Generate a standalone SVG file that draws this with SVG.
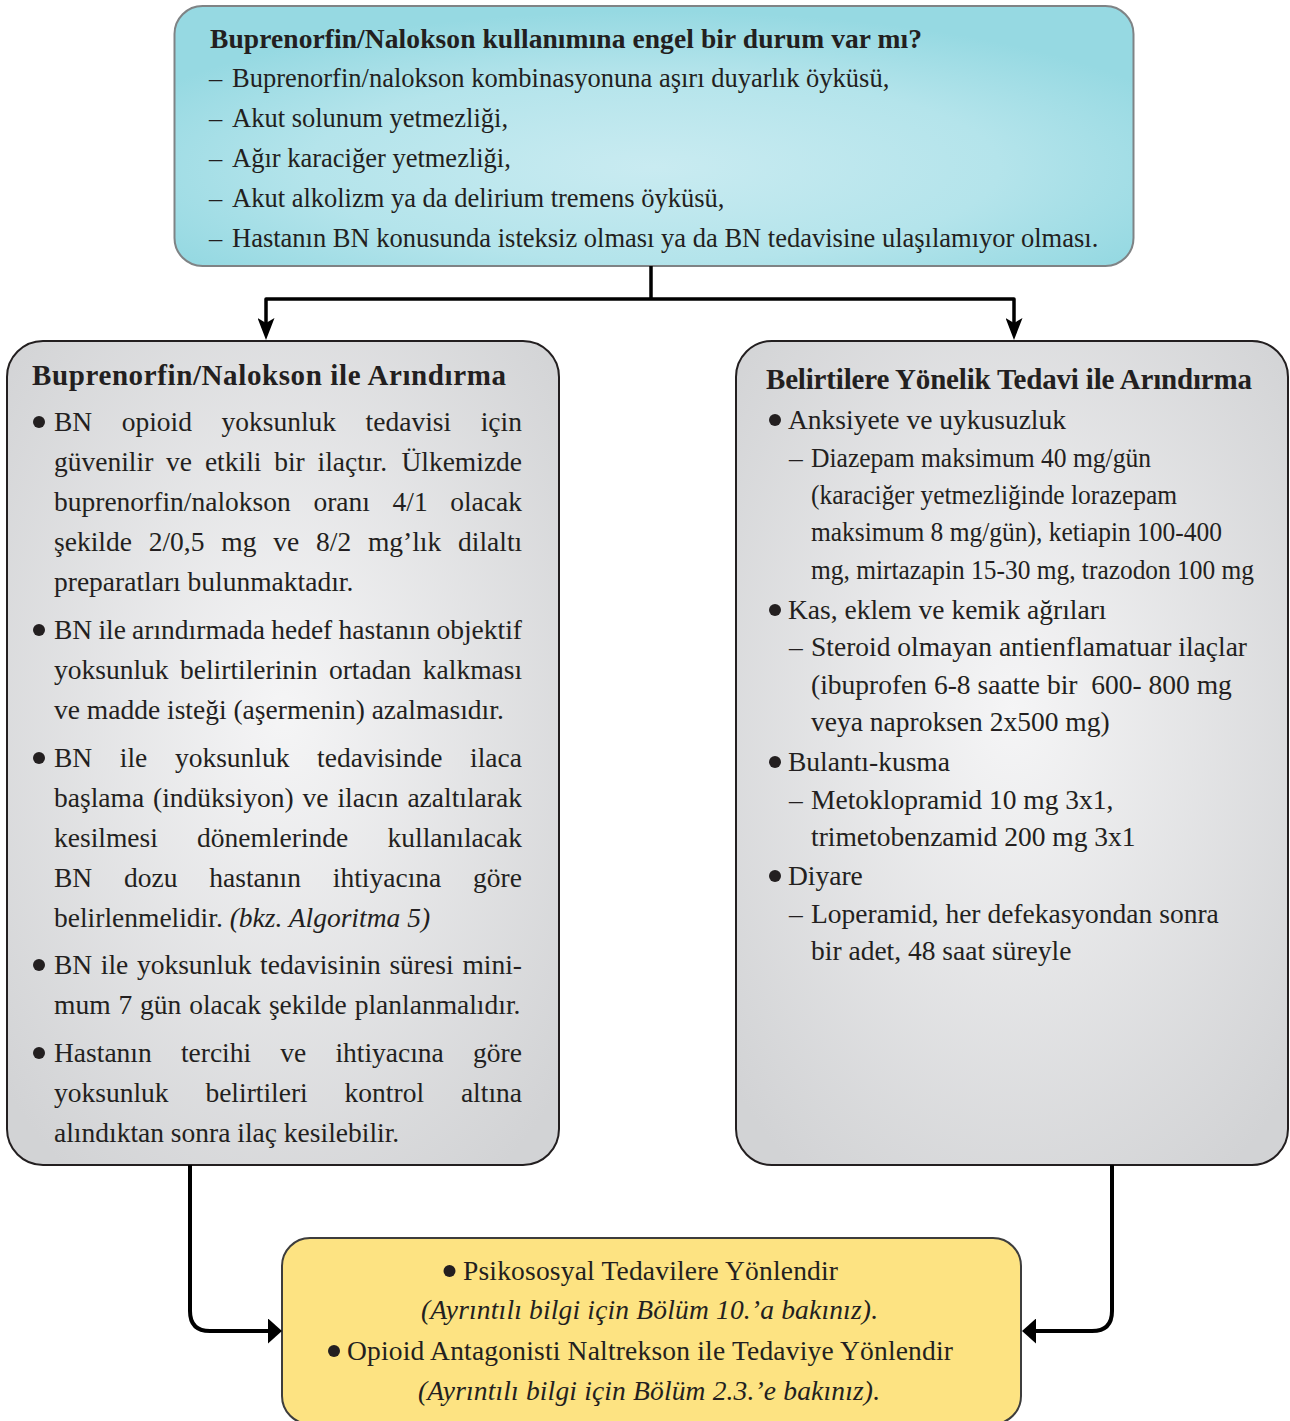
<svg xmlns="http://www.w3.org/2000/svg" width="1290" height="1421" viewBox="0 0 1290 1421">
  <defs>
    <style>
      .t { font-family: "Liberation Serif", "Times New Roman", serif; fill: #231f20; }
      .top { font-size: 26.5px; }
      .body { font-size: 27.5px; }
      .b { font-weight: bold; }
      .i { font-style: italic; }
      .bul { fill: #231f20; }
      .conn { fill: none; stroke: #000; stroke-linejoin: round; }
    </style>
    <radialGradient id="gCyan" cx="0.5" cy="0.62" r="0.6">
      <stop offset="0" stop-color="#c9ebf1"/>
      <stop offset="0.6" stop-color="#b4e4eb"/>
      <stop offset="1" stop-color="#96d9e2"/>
    </radialGradient>
    <radialGradient id="gGray" cx="0.5" cy="0.45" r="0.68">
      <stop offset="0" stop-color="#f5f5f6"/>
      <stop offset="1" stop-color="#d2d3d5"/>
    </radialGradient>
    <marker id="arrowDown" markerUnits="userSpaceOnUse" viewBox="0 0 22 17" markerWidth="22" markerHeight="17" refX="12" refY="8.5" orient="auto">
      <path d="M0,0 L22,8.5 L0,17 L5,8.5 Z" fill="#000"/>
    </marker>
    <marker id="arrowTri" markerUnits="userSpaceOnUse" viewBox="0 0 14 25" markerWidth="14" markerHeight="25" refX="4" refY="12.5" orient="auto">
      <path d="M0,0 L14,12.5 L0,25 Z" fill="#000"/>
    </marker>
  </defs>

  <rect width="1290" height="1421" fill="#ffffff"/>

  <!-- contraindication check -->
  <g id="node-contraindication">
    <rect x="174.5" y="6" width="959" height="260" rx="28" fill="url(#gCyan)" stroke="#7f8385" stroke-width="2"/>
    <text class="t b" x="210" y="48" font-size="27.5" textLength="712" lengthAdjust="spacing">Buprenorfin/Nalokson kullanımına engel bir durum var mı?</text>
    <g class="t top">
      <text x="209" y="87">–</text><text x="232" y="87">Buprenorfin/nalokson kombinasyonuna aşırı duyarlık öyküsü,</text>
      <text x="209" y="127">–</text><text x="232" y="127">Akut solunum yetmezliği,</text>
      <text x="209" y="167">–</text><text x="232" y="167">Ağır karaciğer yetmezliği,</text>
      <text x="209" y="207">–</text><text x="232" y="207">Akut alkolizm ya da delirium tremens öyküsü,</text>
      <text x="209" y="247">–</text><text x="232" y="247">Hastanın BN konusunda isteksiz olması ya da BN tedavisine ulaşılamıyor olması.</text>
    </g>
  </g>

  <!-- buprenorphine/naloxone detox -->
  <g id="node-bn-detox">
    <rect x="7" y="341" width="552" height="824" rx="36" fill="url(#gGray)" stroke="#231f20" stroke-width="2"/>
    <text class="t b" x="32" y="385" font-size="29" textLength="474" lengthAdjust="spacing">Buprenorfin/Nalokson ile Arındırma</text>
    <g class="bul">
      <circle cx="39" cy="422" r="6"/>
      <circle cx="39" cy="630" r="6"/>
      <circle cx="39" cy="758" r="6"/>
      <circle cx="39" cy="965" r="6"/>
      <circle cx="39" cy="1053" r="6"/>
    </g>
    <g class="t body">
      <text y="431"><tspan x="54">BN</tspan><tspan x="121.7">opioid</tspan><tspan x="221.5">yoksunluk</tspan><tspan x="365.6">tedavisi</tspan><tspan x="480.7">için</tspan></text>
      <text y="471"><tspan x="54">güvenilir</tspan><tspan x="166.1">ve</tspan><tspan x="204.9">etkili</tspan><tspan x="274.2">bir</tspan><tspan x="317.6">ilaçtır.</tspan><tspan x="401.4">Ülkemizde</tspan></text>
      <text y="511"><tspan x="54">buprenorfin/nalokson</tspan><tspan x="313.4">oranı</tspan><tspan x="392.5">4/1</tspan><tspan x="450.2">olacak</tspan></text>
      <text y="551"><tspan x="54">şekilde</tspan><tspan x="148.7">2/0,5</tspan><tspan x="221.3">mg</tspan><tspan x="273.2">ve</tspan><tspan x="316">8/2</tspan><tspan x="367.9">mg’lık</tspan><tspan x="458">dilaltı</tspan></text>
      <text x="54" y="591">preparatları bulunmaktadır.</text>

      <text y="639"><tspan x="54">BN</tspan><tspan x="98.4">ile</tspan><tspan x="132.1">arındırmada</tspan><tspan x="271.2">hedef</tspan><tspan x="338.5">hastanın</tspan><tspan x="436.4">objektif</tspan></text>
      <text y="679"><tspan x="54">yoksunluk</tspan><tspan x="180">belirtilerinin</tspan><tspan x="328.9">ortadan</tspan><tspan x="422.8">kalkması</tspan></text>
      <text x="54" y="719">ve madde isteği (aşermenin) azalmasıdır.</text>

      <text y="767"><tspan x="54">BN</tspan><tspan x="119.8">ile</tspan><tspan x="174.9">yoksunluk</tspan><tspan x="317.1">tedavisinde</tspan><tspan x="470">ilaca</tspan></text>
      <text y="807"><tspan x="54">başlama</tspan><tspan x="153">(indüksiyon)</tspan><tspan x="302.5">ve</tspan><tspan x="337.4">ilacın</tspan><tspan x="407.4">azaltılarak</tspan></text>
      <text y="847"><tspan x="54">kesilmesi</tspan><tspan x="197.1">dönemlerinde</tspan><tspan x="387.6">kullanılacak</tspan></text>
      <text y="887"><tspan x="54">BN</tspan><tspan x="124">dozu</tspan><tspan x="209.3">hastanın</tspan><tspan x="332.8">ihtiyacına</tspan><tspan x="473.1">göre</tspan></text>
      <text x="54" y="927">belirlenmelidir. <tspan class="i">(bkz. Algoritma 5)</tspan></text>

      <text y="974"><tspan x="54">BN</tspan><tspan x="100.8">ile</tspan><tspan x="136.9">yoksunluk</tspan><tspan x="260.1">tedavisinin</tspan><tspan x="389.4">süresi</tspan><tspan x="462.4">mini-</tspan></text>
      <text y="1014"><tspan x="54">mum</tspan><tspan x="118.4">7</tspan><tspan x="140.1">gün</tspan><tspan x="189.2">olacak</tspan><tspan x="268.9">şekilde</tspan><tspan x="354.7">planlanmalıdır.</tspan></text>

      <text y="1062"><tspan x="54">Hastanın</tspan><tspan x="180.9">tercihi</tspan><tspan x="280.3">ve</tspan><tspan x="335.4">ihtiyacına</tspan><tspan x="473.1">göre</tspan></text>
      <text y="1102"><tspan x="54">yoksunluk</tspan><tspan x="205.4">belirtileri</tspan><tspan x="344.6">kontrol</tspan><tspan x="460.9">altına</tspan></text>
      <text x="54" y="1142">alındıktan sonra ilaç kesilebilir.</text>
    </g>
  </g>

  <!-- symptomatic treatment detox -->
  <g id="node-symptomatic">
    <rect x="736" y="341" width="552" height="824" rx="36" fill="url(#gGray)" stroke="#231f20" stroke-width="2"/>
    <text class="t b" x="766" y="389" font-size="29" textLength="486" lengthAdjust="spacing">Belirtilere Yönelik Tedavi ile Arındırma</text>
    <g class="bul">
      <circle cx="775" cy="420" r="6"/>
      <circle cx="775" cy="610" r="6"/>
      <circle cx="775" cy="762" r="6"/>
      <circle cx="775" cy="876" r="6"/>
    </g>
    <g class="t body">
      <text x="788" y="429">Anksiyete ve uykusuzluk</text>
      <text x="789" y="467">–</text>
      <text x="811" y="467" textLength="340" lengthAdjust="spacingAndGlyphs">Diazepam maksimum 40 mg/gün</text>
      <text x="811" y="504" textLength="366" lengthAdjust="spacingAndGlyphs">(karaciğer yetmezliğinde lorazepam</text>
      <text x="811" y="541" textLength="411" lengthAdjust="spacingAndGlyphs">maksimum 8 mg/gün), ketiapin 100-400</text>
      <text x="811" y="579" textLength="443" lengthAdjust="spacingAndGlyphs">mg, mirtazapin 15-30 mg, trazodon 100 mg</text>
      <text x="788" y="619">Kas, eklem ve kemik ağrıları</text>
      <text x="789" y="656">–</text>
      <text x="811" y="656">Steroid olmayan antienflamatuar ilaçlar</text>
      <text x="811" y="694">(ibuprofen 6-8 saatte bir&#160; 600- 800 mg</text>
      <text x="811" y="731">veya naproksen 2x500 mg)</text>
      <text x="788" y="771">Bulantı-kusma</text>
      <text x="789" y="809">–</text>
      <text x="811" y="809">Metoklopramid 10 mg 3x1,</text>
      <text x="811" y="846">trimetobenzamid 200 mg 3x1</text>
      <text x="788" y="885">Diyare</text>
      <text x="789" y="923">–</text>
      <text x="811" y="923">Loperamid, her defekasyondan sonra</text>
      <text x="811" y="960">bir adet, 48 saat süreyle</text>
    </g>
  </g>

  <!-- referral -->
  <g id="node-referral">
    <rect x="282" y="1238" width="739" height="186" rx="28" fill="#fde382" stroke="#3d3d3d" stroke-width="2"/>
    <g class="bul">
      <circle cx="449.5" cy="1271" r="6"/>
      <circle cx="334" cy="1351" r="6"/>
    </g>
    <g class="t body">
      <text x="463" y="1280" textLength="375" lengthAdjust="spacing">Psikososyal Tedavilere Yönlendir</text>
      <text class="i" x="421" y="1319" textLength="457" lengthAdjust="spacing">(Ayrıntılı bilgi için Bölüm 10.’a bakınız).</text>
      <text x="347" y="1360" textLength="606" lengthAdjust="spacing">Opioid Antagonisti Naltrekson ile Tedaviye Yönlendir</text>
      <text class="i" x="418" y="1400" textLength="462" lengthAdjust="spacing">(Ayrıntılı bilgi için Bölüm 2.3.’e bakınız).</text>
    </g>
  </g>

  <!-- connectors -->
  <g id="connectors">
    <path class="conn" stroke-width="3.5" d="M651,266 V299"/>
    <path class="conn" stroke-width="3.5" d="M651,299 H266 V330" marker-end="url(#arrowDown)"/>
    <path class="conn" stroke-width="3.5" d="M651,299 H1014 V330" marker-end="url(#arrowDown)"/>
    <path class="conn" stroke-width="4" d="M190,1165 V1311 Q190,1331 210,1331 H272" marker-end="url(#arrowTri)"/>
    <path class="conn" stroke-width="4" d="M1112,1165 V1311 Q1112,1331 1092,1331 H1032" marker-end="url(#arrowTri)"/>
  </g>
</svg>
